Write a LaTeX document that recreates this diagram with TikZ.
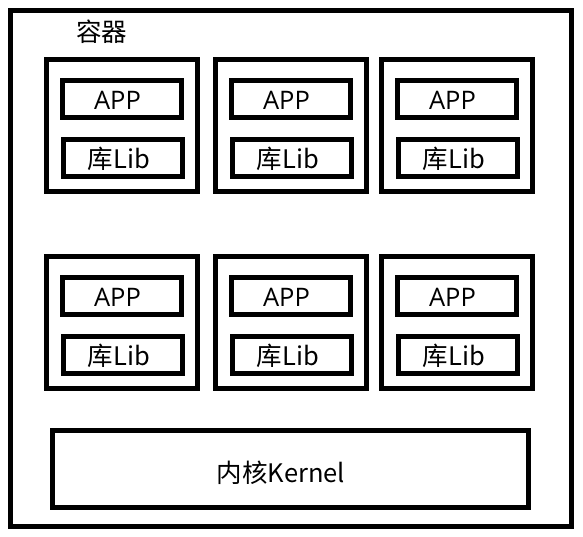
\documentclass[tikz,border=0pt]{standalone}
\usepackage{fontspec}
\setmainfont{Open Sans}
\newfontfamily\cjk{Noto Sans CJK SC}
\begin{document}
\begin{tikzpicture}[x=1pt,y=-1pt,
  frame/.style={draw=black,line width=5pt,rectangle,inner sep=0pt,outer sep=0pt},
  cont/.style={frame,minimum width=151.5pt,minimum height=132pt},
  appbox/.style={frame,minimum width=119pt,minimum height=37pt},
  txt/.style={inner sep=0pt,font=\fontsize{25.5}{30}\selectfont}]
\useasboundingbox (0,0) rectangle (583,536);
\node[frame,minimum width=561.5pt,minimum height=516pt] (outer) at (290.75,268.5) {};
\node[txt] (title) at (101.5,32) {\cjk{容器}};
\foreach \r/\cy in {1/125.5,2/322.5}{
  \foreach \c/\lx in {1/46,2/215,3/381}{
    \node[cont] (c\r\c) at (\lx+75.75,\cy) {};
    \node[appbox] (a\r\c) at (\lx+75.5,\cy-26.5) {};
    \node[appbox] (l\r\c) at (\lx+77,\cy+32.5) {};
    \node[txt] (at\r\c) at ([xshift=-4pt,yshift=-1pt]a\r\c.center) {APP};
    \node[txt] (lt\r\c) at ([xshift=-4pt,yshift=-1pt]l\r\c.center) {\cjk{库}Lib};
  }
}
\node[frame,minimum width=476pt,minimum height=77pt] (kernel) at (290.5,469) {};
\node[txt] (kt) at (281,473) {\cjk{内核}Kernel};
\end{tikzpicture}
\end{document}
